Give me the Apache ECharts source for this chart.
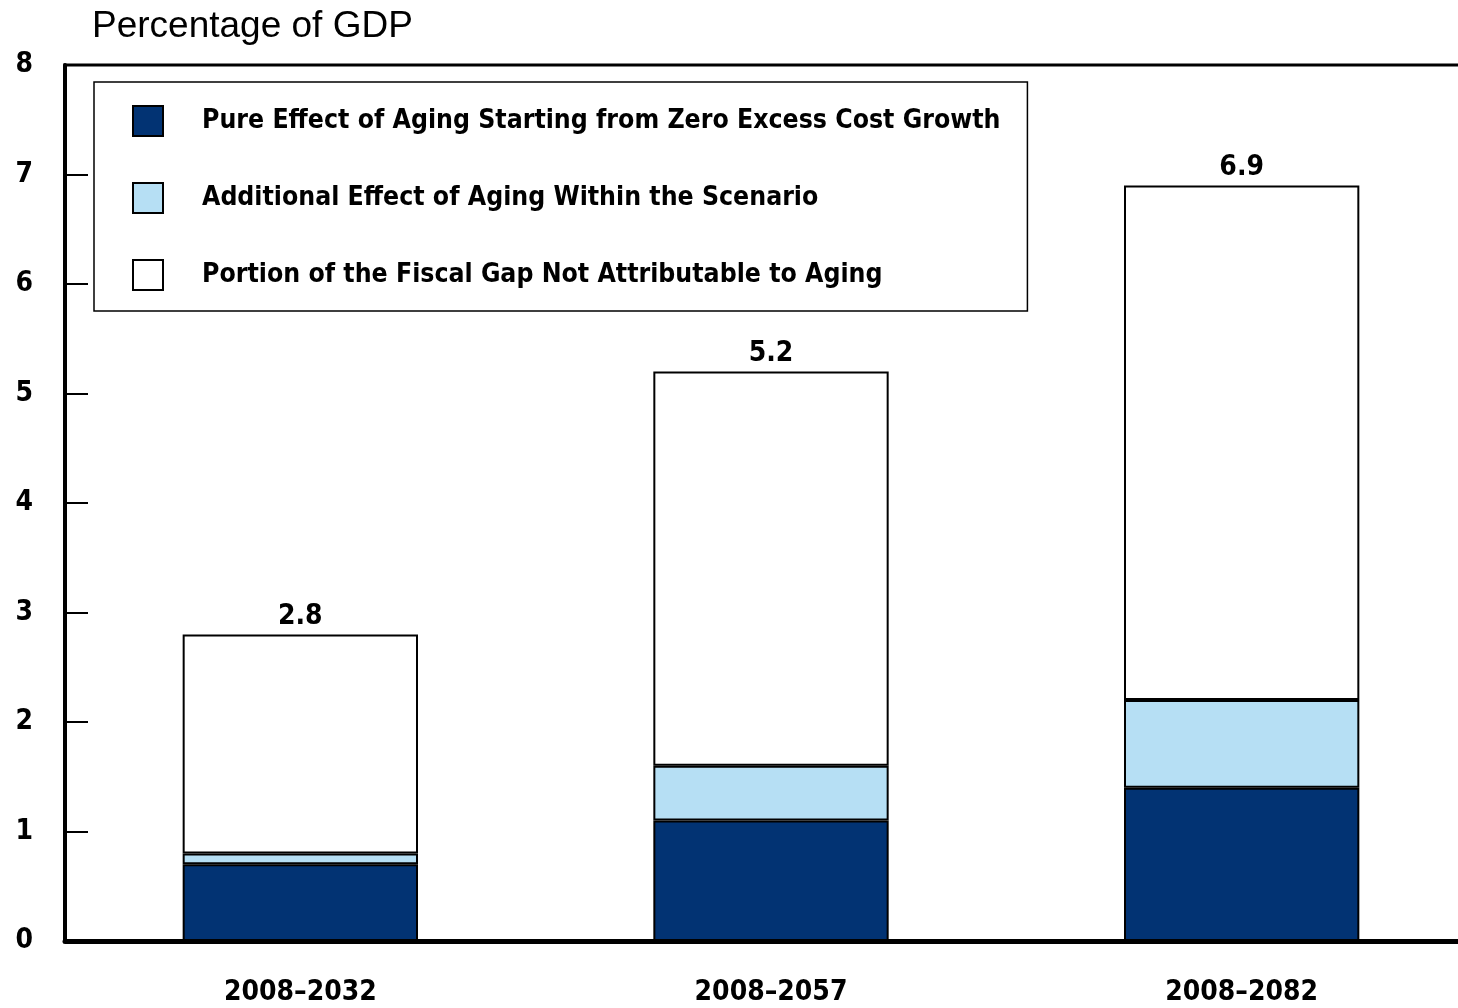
<!DOCTYPE html>
<html><head><meta charset="utf-8">
<script src="https://cdn.jsdelivr.net/npm/echarts@6/dist/echarts.min.js"></script>
<style>html,body{margin:0;padding:0;background:#fff;overflow:hidden}#c{width:1477px;height:1008px}</style>
</head><body><div id="c"></div>
<script>
const categories = ['2008\u20132032', '2008\u20132057', '2008\u20132082'];
const pureAging = [0.7, 1.1, 1.4];
const additionalAging = [0.1, 0.5, 0.8];
const notAging = [2.0, 3.6, 4.7];
const totals = [2.8, 5.2, 6.9];
const yTicks = [0, 1, 2, 3, 4, 5, 6, 7, 8];
const seriesNames = [
  'Pure Effect of Aging Starting from Zero Excess Cost Growth',
  'Additional Effect of Aging Within the Scenario',
  'Portion of the Fiscal Gap Not Attributable to Aging'
];
const boldFont = "'DejaVu Sans Condensed', sans-serif";
const chart = echarts.init(document.getElementById('c'));
const mk = (name, data, color) => ({
  name, type: 'bar', stack: 'a', data, barWidth: '50%',
  itemStyle: { color, borderColor: '#000', borderWidth: 2 }
});
const s3 = mk(seriesNames[2], notAging, '#ffffff');
s3.label = { show: true, position: 'top', distance: 4, color: '#000', fontWeight: 'bold',
  fontSize: 28, fontFamily: boldFont, formatter: p => totals[p.dataIndex].toFixed(1) };
chart.setOption({
  animation: false,
  title: { text: 'Percentage of GDP', left: 92, top: 8, padding: 0,
    textStyle: { fontFamily: "'Liberation Sans', Arial, sans-serif", fontWeight: 'normal', fontSize: 37, color: '#000' } },
  grid: { left: 65, right: 0, top: 65, bottom: 67, show: true, borderColor: '#000', borderWidth: 3, backgroundColor: 'transparent' },
  legend: {
    orient: 'vertical', left: 94, top: 82,
    data: seriesNames.map(n => ({ name: n, icon: 'rect' })),
    itemWidth: 30, itemHeight: 30, itemGap: 45,
    padding: [23, 27, 20, 38],
    borderColor: '#000', borderWidth: 1.5,
    textStyle: { fontFamily: boldFont, fontWeight: 'bold', fontSize: 26.4, color: '#000', padding: [0, 0, 0, 34] }
  },
  xAxis: {
    type: 'category', data: categories,
    axisLine: { lineStyle: { color: '#000', width: 5 } },
    axisTick: { show: false },
    axisLabel: { margin: 38, color: '#000', fontWeight: 'bold', fontSize: 28, fontFamily: boldFont }
  },
  yAxis: {
    type: 'value', min: yTicks[0], max: yTicks[yTicks.length - 1], interval: 1,
    splitLine: { show: false },
    axisLine: { show: true, lineStyle: { color: '#000', width: 4 } },
    axisTick: { show: true, inside: true, length: 23, lineStyle: { color: '#000', width: 2 } },
    axisLabel: { margin: 32, color: '#000', fontWeight: 'bold', fontSize: 28, fontFamily: boldFont }
  },
  series: [mk(seriesNames[0], pureAging, '#023373'), mk(seriesNames[1], additionalAging, '#b6dff4'), s3]
});
</script></body></html>
